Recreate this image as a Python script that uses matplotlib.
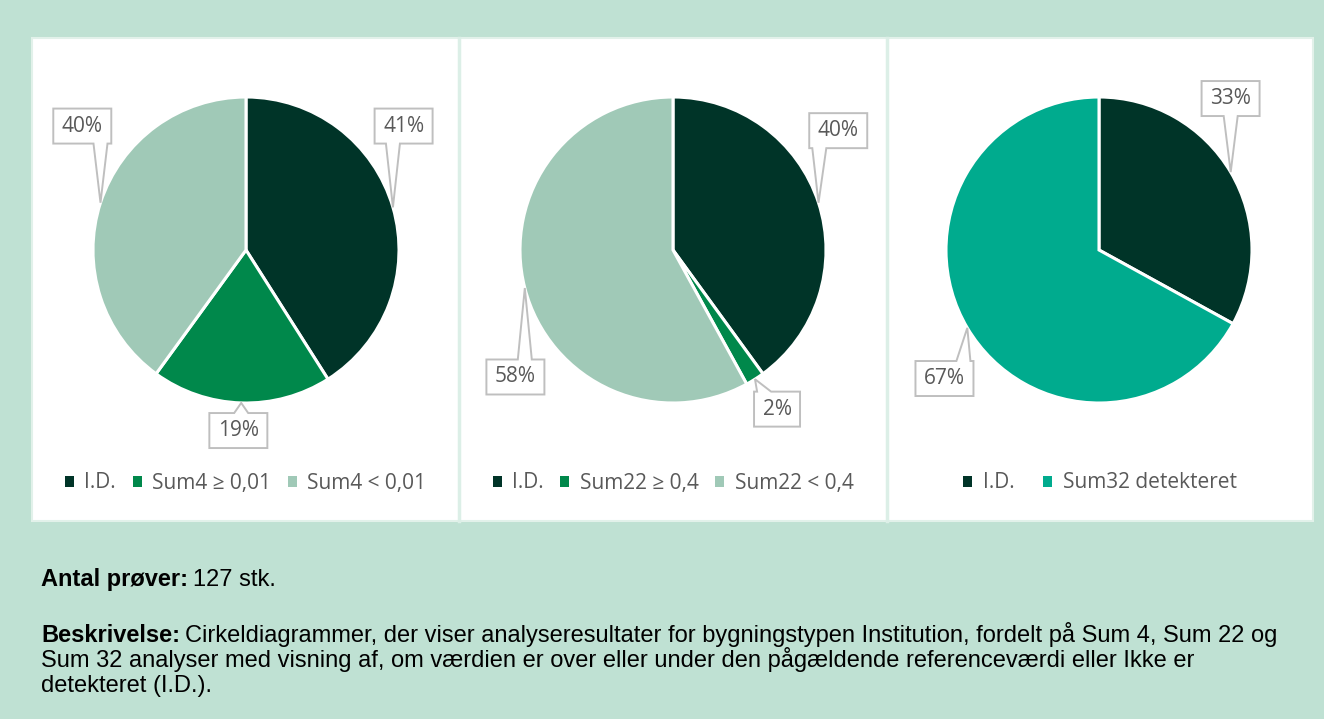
import numpy as np
import matplotlib.pyplot as plt
from matplotlib.patches import Patch, Polygon, Rectangle

# data
sum4_labels = ["I.D.", "Sum4 \u2265 0,01", "Sum4 < 0,01"]
sum4_values = [41, 19, 40]
sum22_labels = ["I.D.", "Sum22 \u2265 0,4", "Sum22 < 0,4"]
sum22_values = [40, 2, 58]
sum32_labels = ["I.D.", "Sum32 detekteret"]
sum32_values = [33, 67]

sum4_colors = ["#003428", "#00884b", "#a0c9b7"]
sum22_colors = ["#003428", "#00884b", "#a0c9b7"]
sum32_colors = ["#003428", "#00ab8e"]

# label box centres, in pie radii from the pie centre (layout only)
sum4_label_pos = [(1.03, 0.81), (-0.05, -1.18), (-1.07, 0.81)]
sum22_label_pos = [(1.08, 0.78), (0.68, -1.04), (-1.03, -0.83)]
sum32_label_pos = [(0.86, 0.99), (-1.01, -0.84)]

W, H, DPI = 1324, 719, 100
BG = "#bfe1d3"
TXT = "#595959"
EDGE = "#bfbfbf"
R_PX = 153.0
LABEL_FS = 15

fig = plt.figure(figsize=(W / DPI, H / DPI), dpi=DPI, facecolor=BG)

# white chart area and dividers (behind the axes)
panel_x = [32, 459, 887, 1313]
top, bottom = 38, 521
fig.add_artist(Rectangle((panel_x[0] / W, 1 - bottom / H), (panel_x[-1] - panel_x[0]) / W,
                         (bottom - top) / H, transform=fig.transFigure,
                         facecolor="white", edgecolor="#e2f1ea", lw=1.5, zorder=-2))
for xd in panel_x[1:-1]:
    fig.add_artist(plt.Line2D([xd / W, xd / W], [1 - bottom / H, 1 - top / H],
                              transform=fig.transFigure, color="#dcefe7", lw=2.5, zorder=-1))


def callout(ax, tip, centre, w, h):
    """Excel-like callout box with a narrow tail pointing to tip (data units)."""
    cx, cy = centre
    l, r, b, t = cx - w / 2, cx + w / 2, cy - h / 2, cy + h / 2
    tx, ty = tip
    half = 7 / R_PX
    if ty < b:
        bx = min(max(tx, l + half + 0.02), r - half - 0.02)
        pts = [(l, t), (r, t), (r, b), (bx + half, b), (tx, ty), (bx - half, b), (l, b)]
    elif ty > t:
        bx = min(max(tx, l + half + 0.02), r - half - 0.02)
        pts = [(l, t), (bx - half, t), (tx, ty), (bx + half, t), (r, t), (r, b), (l, b)]
    elif tx < l:
        by = min(max(ty, b + half), t - half)
        pts = [(l, t), (r, t), (r, b), (l, b), (l, by - half), (tx, ty), (l, by + half)]
    else:
        by = min(max(ty, b + half), t - half)
        pts = [(l, t), (r, t), (r, by + half), (tx, ty), (r, by - half), (r, b), (l, b)]
    ax.add_patch(Polygon(pts, closed=True, facecolor="white", edgecolor=EDGE, lw=1.4,
                         zorder=5, clip_on=False))


def draw_pie(idx, centre_px, values, labels, colors, label_pos, colspace):
    x0, x1 = panel_x[idx], panel_x[idx + 1]
    ax = fig.add_axes([x0 / W, 1 - bottom / H, (x1 - x0) / W, (bottom - top) / H])
    ax.patch.set_alpha(0)
    wedges, _ = ax.pie(values, colors=colors, startangle=90, counterclock=False, radius=1,
                       wedgeprops=dict(edgecolor="white", linewidth=2.2))
    cx, cy = centre_px
    ax.set_aspect("auto")
    ax.set_xlim(-(cx - x0) / R_PX, (x1 - cx) / R_PX)
    ax.set_ylim(-(bottom - cy) / R_PX, (cy - top) / R_PX)
    ax.axis("off")

    for wdg, v, pos in zip(wedges, values, label_pos):
        mid = np.deg2rad((wdg.theta1 + wdg.theta2) / 2)
        tip = (np.cos(mid), np.sin(mid))
        txt = f"{v}%"
        bw = (len(txt) * 12 + 22) / R_PX
        bh = 35 / R_PX
        callout(ax, tip, pos, bw, bh)
        ax.text(pos[0], pos[1], txt, ha="center", va="center", fontsize=LABEL_FS,
                color=TXT, family="Open Sans", zorder=6)

    handles = [Patch(facecolor=c, edgecolor="none") for c in colors]
    ax.legend(handles, labels, loc="center", bbox_to_anchor=(0.5, (bottom - 483) / (bottom - top)),
              ncol=len(labels), frameon=False, handlelength=0.43, handleheight=0.43,
              handletextpad=0.5, columnspacing=colspace,
              prop=dict(family="Open Sans", size=LABEL_FS), labelcolor=TXT)


draw_pie(0, (246, 250), sum4_values, sum4_labels, sum4_colors, sum4_label_pos, 0.8)
draw_pie(1, (673, 250), sum22_values, sum22_labels, sum22_colors, sum22_label_pos, 0.8)
draw_pie(2, (1099, 250), sum32_values, sum32_labels, sum32_colors, sum32_label_pos, 1.4)

# description text
fs = 17
fam = "Liberation Sans"


def rich_line(x_px, base_px, bold, rest):
    y = 1 - base_px / H
    x = x_px / W
    if bold:
        tb = fig.text(x, y, bold, fontsize=fs, fontweight="bold", family=fam, va="baseline")
        fig.canvas.draw()
        x = (tb.get_window_extent().x1 + 5) / W
    fig.text(x, y, rest, fontsize=fs, family=fam, va="baseline")


rich_line(41, 586, "Antal prøver:", "127 stk.")
rich_line(41, 642, "Beskrivelse:",
          "Cirkeldiagrammer, der viser analyseresultater for bygningstypen Institution, fordelt på Sum 4, Sum 22 og")
rich_line(41, 667, None,
          "Sum 32 analyser med visning af, om værdien er over eller under den pågældende referenceværdi eller Ikke er")
rich_line(41, 692, None, "detekteret (I.D.).")

fig.savefig("out.png", dpi=DPI, facecolor=BG)
